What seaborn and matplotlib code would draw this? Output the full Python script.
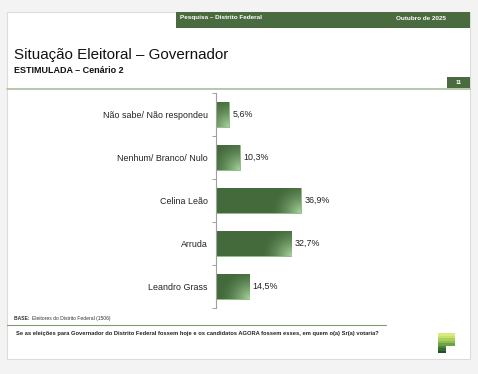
import numpy as np
import pandas as pd
import matplotlib
matplotlib.use("Agg")
import matplotlib.pyplot as plt
from matplotlib.patches import Rectangle
from matplotlib.lines import Line2D
import seaborn as sns

# ── data ─────────────────────────────────────────────────────────────────────
categories = ["Não sabe/ Não respondeu", "Nenhum/ Branco/ Nulo",
              "Celina Leão", "Arruda", "Leandro Grass"]
values = [5.6, 10.3, 36.9, 32.7, 14.5]

title = "Situação Eleitoral – Governador"
subtitle = "ESTIMULADA – Cenário 2"
header_left = "Pesquisa – Distrito Federal"
header_right = "Outubro de 2025"
page_no = "11"
base_note = "Eleitores do Distrito Federal (1506)"
question = ("Se as eleições para Governador do Distrito Federal fossem hoje e os "
            "candidatos AGORA fossem esses, em quem o(a) Sr(a) votaria?")

DARK = "#446a3c"
LIGHT = "#a8d69c"
W, H = 478, 374

sns.set_style("white")
plt.rcParams["font.family"] = ["Liberation Sans", "DejaVu Sans"]


def fx(px):
    return px / W


def fy(py):
    return 1 - py / H


fig = plt.figure(figsize=(4.78, 3.74), dpi=100, facecolor="#f3f3f3")

# page panel
fig.patches.append(Rectangle((fx(7), fy(359)), fx(470) - fx(7), fy(12) - fy(359),
                             transform=fig.transFigure, facecolor="white",
                             edgecolor="#dcdcdc", linewidth=0.8, zorder=-5))
# header bar
fig.patches.append(Rectangle((fx(176), fy(28)), fx(470) - fx(176), fy(12) - fy(28),
                             transform=fig.transFigure, facecolor="#4a6a40",
                             edgecolor="none", zorder=-4))
fig.text(fx(180), fy(18), header_left, color="white", fontsize=4.6,
         fontweight="bold", va="center", ha="left")
fig.text(fx(446), fy(18), header_right, color="white", fontsize=4.6,
         fontweight="bold", va="center", ha="right")

# titles
fig.text(fx(14), fy(55), title, fontsize=10.9, va="center", ha="left", color="#111111")
fig.text(fx(14), fy(70.5), subtitle, fontsize=6.5, fontweight="bold",
         va="center", ha="left", color="#111111")

# page number box + rule
fig.patches.append(Rectangle((fx(447), fy(88)), fx(470) - fx(447), fy(77) - fy(88),
                             transform=fig.transFigure, facecolor="#4a6a40",
                             edgecolor="none", zorder=-4))
fig.text(fx(458.5), fy(82.5), page_no, color="white", fontsize=4.2,
         fontweight="bold", va="center", ha="center")
fig.lines.append(Line2D([fx(7), fx(470)], [fy(88.5), fy(88.5)],
                        transform=fig.transFigure, color="#a9bd9f", linewidth=1.2,
                        zorder=-4))

# ── chart ────────────────────────────────────────────────────────────────────
df = pd.DataFrame({"categoria": categories, "valor": values})
ax = fig.add_axes([fx(216), fy(308), 230 / W, 215 / H])
sns.barplot(data=df, x="valor", y="categoria", orient="h", color=DARK,
            width=0.6, ax=ax, saturation=1, edgecolor="#8fc283", linewidth=0.6)

# gradient fill clipped to each bar (light corner bottom-right)
c0 = np.array(matplotlib.colors.to_rgb(DARK))
c1 = np.array(matplotlib.colors.to_rgb(LIGHT))
for patch in list(ax.patches):
    x0, y0 = patch.get_x(), patch.get_y()
    w, h = patch.get_width(), patch.get_height()
    gx = np.linspace(0, 1, 200)[None, :]
    gy = np.linspace(0, 1, 60)[:, None]
    wpx = w * 2.3
    d = np.sqrt(((1 - gx) * wpx) ** 2 + ((1 - gy) * 25) ** 2)
    t = np.clip(1 - d / 30, 0, 1) ** 1.6
    img = c0[None, None, :] * (1 - t[..., None]) + c1[None, None, :] * t[..., None]
    im = ax.imshow(img, extent=(x0, x0 + w, y0, y0 + h), origin="lower",
                   aspect="auto", zorder=patch.get_zorder() + 0.1,
                   interpolation="bilinear")
    im.set_clip_path(patch)
ax.set_xlim(0, 100)
ax.set_ylim(len(categories) - 0.5, -0.5)

for i, v in enumerate(values):
    ax.text(v + 1.5, i, f"{v:.1f}%".replace(".", ","), va="center", ha="left",
            fontsize=6.4, color="#222222", zorder=5)

ax.set_xlabel("")
ax.set_ylabel("")
ax.set_xticks([])
ax.tick_params(axis="y", which="major", length=0, pad=6, labelsize=6.4,
               labelcolor="#222222")
ax.set_yticks(np.arange(-0.5, len(categories)), minor=True)
ax.tick_params(axis="y", which="minor", length=3, width=0.7, color="#a0a0a0",
               direction="out", left=True, right=False)
for s in ["top", "right", "bottom"]:
    ax.spines[s].set_visible(False)
ax.spines["left"].set_color("#a0a0a0")
ax.spines["left"].set_linewidth(0.8)
ax.set_facecolor("none")

# ── footer ───────────────────────────────────────────────────────────────────
t_base = fig.text(fx(14), fy(318.5), "BASE: ", fontsize=3.6, fontweight="bold",
                  va="center", ha="left", color="#333333")
renderer = fig.canvas.get_renderer()
bb = t_base.get_window_extent(renderer)
fig.text(bb.x1 / fig.bbox.width + 0.003, fy(318.5), base_note, fontsize=3.6,
         va="center", ha="left", color="#333333")
fig.lines.append(Line2D([fx(7), fx(386)], [fy(324.5), fy(324.5)],
                        transform=fig.transFigure, color="#7f9c72", linewidth=0.8))
fig.text(fx(16), fy(333.5), question, fontsize=4.15, fontweight="bold",
         va="center", ha="left", color="#222222")

# logo: stacked stripes forming a "P"
logo_cols = ["#d7ec7c", "#c6e26c", "#a9d05e", "#8cbc52", "#6fa146", "#4f833a",
             "#356a30", "#1f4f25"]
for k, col in enumerate(logo_cols):
    top = 333 + k * 2.5
    right = 455 if k < 5 else 446
    fig.patches.append(Rectangle((fx(438), fy(top + 2.5)), fx(right) - fx(438),
                                 fy(top) - fy(top + 2.5),
                                 transform=fig.transFigure, facecolor=col,
                                 edgecolor="none", zorder=2))

fig.savefig("out.png", dpi=100, facecolor=fig.get_facecolor())
